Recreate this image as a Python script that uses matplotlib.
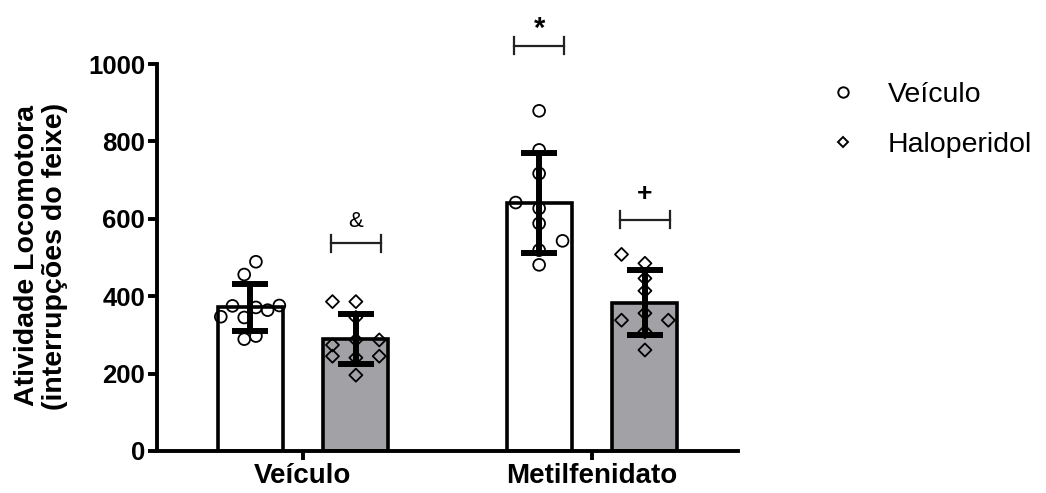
import numpy as np
import matplotlib
matplotlib.use("Agg")
import matplotlib.pyplot as plt
from matplotlib.lines import Line2D

plt.rcParams['font.family'] = ['Liberation Sans', 'DejaVu Sans']

groups = ["Veículo", "Metilfenidato"]
series = ["Veículo", "Haloperidol"]

# means and SD
means_veh = [371, 640]
means_hal = [289, 383]
sd_veh = [61, 129]
sd_hal = [64, 84]

# individual animals (value, jitter slot)
pts_veh_veh = [489, 456, 375, 347, 345, 371, 364, 376, 289, 297]
slot_veh_veh = [0.5, -0.5, -1.5, -2.5, -0.5, 0.5, 1.5, 2.5, -0.5, 0.5]
pts_veh_hal = [386, 386, 345, 287, 274, 287, 245, 241, 245, 196]
slot_veh_hal = [-2, 0, 0, 0, -2, 2, -2, 0, 2, 0]
pts_met_veh = [879, 778, 717, 642, 627, 588, 543, 519, 481]
slot_met_veh = [0, 0, 0, -2, 0, 0, 2, 0, 0]
pts_met_hal = [508, 485, 446, 414, 338, 356, 338, 308, 261]
slot_met_hal = [-2, 0, 0, 0, -2, 0, 2, 0, 0]

grey = "#a2a2a6"
off = 0.183
bw = 0.225
step = 0.0405

fig = plt.figure(figsize=(10.46, 4.93), dpi=100)
ax = fig.add_axes([157/1046, 1-451/493, 581/1046, 387/493])

x = np.arange(len(groups))
ax.bar(x - off, means_veh, width=bw, color="white", edgecolor="black", linewidth=2.6, zorder=2)
ax.bar(x + off, means_hal, width=bw, color=grey, edgecolor="black", linewidth=2.6, zorder=2)

sets = [
    (0 - off, pts_veh_veh, slot_veh_veh, "o", 72),
    (0 + off, pts_veh_hal, slot_veh_hal, "D", 44),
    (1 - off, pts_met_veh, slot_met_veh, "o", 72),
    (1 + off, pts_met_hal, slot_met_hal, "D", 44),
]
for cx, vals, slots, mk, s in sets:
    xs = cx + np.array(slots) * step
    ax.scatter(xs, vals, marker=mk, s=s, facecolors="none", edgecolors="black",
               linewidths=1.3, zorder=3)

ax.errorbar(x - off, means_veh, yerr=sd_veh, fmt="none", ecolor="black",
            elinewidth=4.3, capsize=13, capthick=4.3, zorder=4)
ax.errorbar(x + off, means_hal, yerr=sd_hal, fmt="none", ecolor="black",
            elinewidth=4.3, capsize=13, capthick=4.3, zorder=4)

# significance brackets
def bracket(xc, y, sym, size, weight, ty):
    hw = 0.0865
    ax.plot([xc - hw, xc + hw], [y, y], color="#222222", lw=1.6, clip_on=False)
    ax.plot([xc - hw, xc - hw], [y - 22, y + 22], color="#222222", lw=1.6, clip_on=False)
    ax.plot([xc + hw, xc + hw], [y - 22, y + 22], color="#222222", lw=1.6, clip_on=False)
    ax.text(xc, ty, sym, ha="center", va="center", fontsize=size, fontweight=weight, clip_on=False)

bracket(0 + off, 537, "&", 16, "normal", 592)
bracket(1 - off, 1047, "*", 21, "bold", 1090)
bracket(1 + off, 597, "+", 19, "bold", 664)

ax.set_xlim(-0.505, 1.505)
ax.set_ylim(0, 1000)
ax.set_yticks([0, 200, 400, 600, 800, 1000])
ax.set_xticks(x)
ax.set_xticklabels(groups, fontsize=20)
for sp in ["top", "right"]:
    ax.spines[sp].set_visible(False)
for sp in ["left", "bottom"]:
    ax.spines[sp].set_linewidth(2.8)
ax.tick_params(axis="both", length=6.5, width=2.8, pad=2)
ax.tick_params(axis="y", labelsize=18.5)
for lab in ax.get_xticklabels() + ax.get_yticklabels():
    lab.set_fontweight("bold")

fig.text(41/1046, 1-256/493, "Atividade Locomotora\n(interrupções do feixe)",
         rotation=90, ha="center", va="center", fontsize=20.5, fontweight="bold",
         multialignment="center", linespacing=1.12)

handles = [
    Line2D([], [], marker="o", ls="none", mfc="none", mec="black", ms=7.5, mew=1.4),
    Line2D([], [], marker="D", ls="none", mfc="none", mec="black", ms=5.5, mew=1.4),
]
fig.legend(handles, series, loc="upper left", bbox_to_anchor=(829/1046, 1-82/493),
           frameon=False, fontsize=20.5, handlelength=1.0, handletextpad=1.07,
           labelspacing=0.85, borderpad=0, borderaxespad=0)

fig.savefig("out.png", dpi=100)
